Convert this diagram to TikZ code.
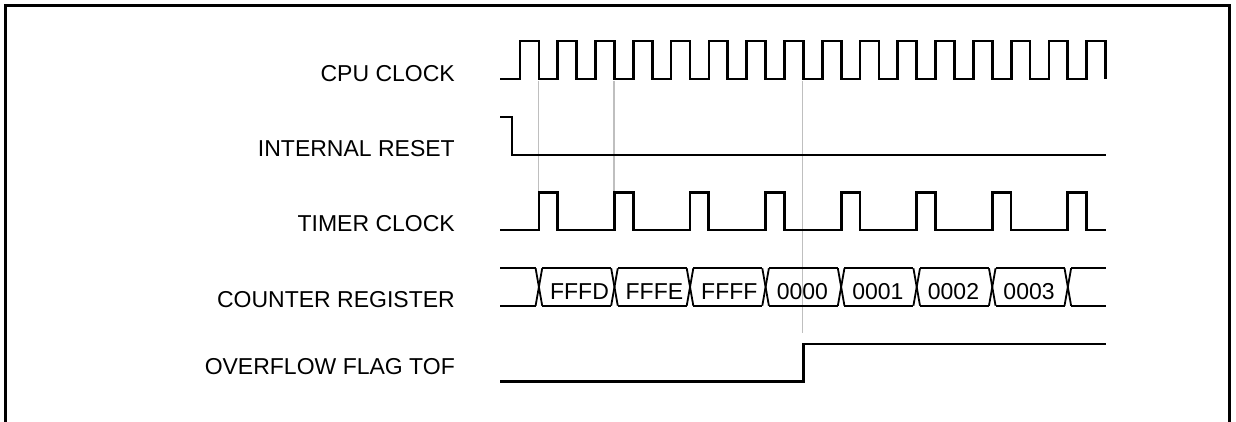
\documentclass[tikz,border=0pt]{standalone}
\usepackage{fontspec}
\setmainfont{Liberation Sans}
\begin{document}
\begin{tikzpicture}[x=1pt,y=-1pt,
  sig/.style={line width=2.7pt,line join=miter},
  bus/.style={line width=1.8pt},
  guide/.style={line width=1.2pt,color=black!25},
  frame/.style={line width=2.7pt},
  lbl/.style={anchor=base east,inner sep=0pt,font=\fontsize{23}{27}\selectfont},
  val/.style={anchor=base west,inner sep=0pt,font=\fontsize{23}{27}\selectfont}]
\useasboundingbox (0,0) rectangle (1236,422);
\pgfmathsetmacro{\P}{37.78}
% frame
\draw[frame] (5.5,423) -- (5.5,5.5) -- (1229.5,5.5) -- (1229.5,423);
% labels
\node[lbl] (cpu)  at (455,81.7) {CPU CLOCK};
\node[lbl] (rst)  at (455,157)  {INTERNAL RESET};
\node[lbl] (tmr)  at (455,231.7){TIMER CLOCK};
\node[lbl] (cnt)  at (455,307)  {COUNTER REGISTER};
\node[lbl] (tof)  at (455,374)  {OVERFLOW FLAG TOF};
% guide lines
\draw[guide] ({538.4},81) -- ({538.4},192.5);
\draw[guide] ({538.4+2*\P},81) -- ({538.4+2*\P},192.5);
\draw[guide] ({538.4+7*\P},81) -- ({538.4+7*\P},333);
% CPU clock
\draw[sig] (500,79) \foreach \k in {0,...,15}{
  -- ({520+\k*\P},79) -- ({520+\k*\P},41) -- ({538.9+\k*\P},41) -- ({538.9+\k*\P},79) };
% internal reset
\draw[sig] (500,117) -- (512,117) -- (512,155) -- (1106,155);
% timer clock
\draw[sig] (500,230) \foreach \j in {0,...,7}{
  -- ({538.9+2*\j*\P},230) -- ({538.9+2*\j*\P},192.5) -- ({557.7+2*\j*\P},192.5) -- ({557.7+2*\j*\P},230) } -- (1106,230);
% counter register bus
\def\bt{268.3}\def\bb{305.7}\def\hw{3.3}
\draw[bus] (500,\bt) -- ({538.9-\hw},\bt);
\draw[bus] (500,\bb) -- ({538.9-\hw},\bb);
\foreach \j in {0,...,7}{
  \pgfmathsetmacro{\t}{538.9+2*\j*\P}
  \draw[bus] ({\t-\hw},\bt) -- ({\t+\hw},\bb);
  \draw[bus] ({\t-\hw},\bb) -- ({\t+\hw},\bt);
}
\foreach \j in {0,...,6}{
  \pgfmathsetmacro{\t}{538.9+2*\j*\P}
  \pgfmathsetmacro{\u}{538.9+2*(\j+1)*\P}
  \draw[bus] ({\t+\hw},\bt) -- ({\u-\hw},\bt);
  \draw[bus] ({\t+\hw},\bb) -- ({\u-\hw},\bb);
}
\draw[bus] ({538.9+14*\P+\hw},\bt) -- (1106,\bt);
\draw[bus] ({538.9+14*\P+\hw},\bb) -- (1106,\bb);
\foreach \v [count=\i from 0] in {FFFD,FFFE,FFFF,0000,0001,0002,0003}{
  \node[val] (v\i) at ({538.9+2*\i*\P+11},299.5) {\v};
}
% overflow flag
\draw[sig] (500,381.7) -- ({538.9+7*\P},381.7) -- ({538.9+7*\P},344) -- (1106,344);
\end{tikzpicture}
\end{document}
